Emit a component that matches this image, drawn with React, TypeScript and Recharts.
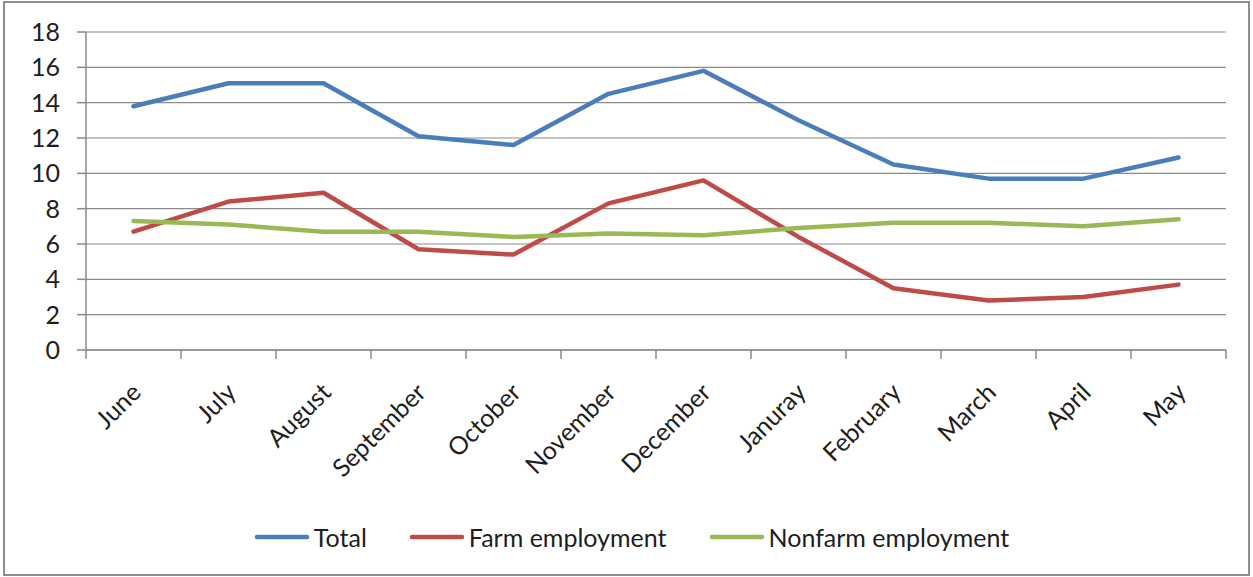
import React from "react";
import { CartesianGrid, Legend, Line, LineChart, XAxis, YAxis } from "recharts";

const months = [
  "June",
  "July",
  "August",
  "September",
  "October",
  "November",
  "December",
  "Januray",
  "February",
  "March",
  "April",
  "May",
];
const total = [13.8, 15.1, 15.1, 12.1, 11.6, 14.5, 15.8, 13.0, 10.5, 9.7, 9.7, 10.9];
const farm = [6.7, 8.4, 8.9, 5.7, 5.4, 8.3, 9.6, 6.4, 3.5, 2.8, 3.0, 3.7];
const nonfarm = [7.3, 7.1, 6.7, 6.7, 6.4, 6.6, 6.5, 6.9, 7.2, 7.2, 7.0, 7.4];
const seriesNames = ["Total", "Farm employment", "Nonfarm employment"];
const yTicks = [0, 2, 4, 6, 8, 10, 12, 14, 16, 18];

const data = months.map((month, i) => ({
  month,
  total: total[i],
  farm: farm[i],
  nonfarm: nonfarm[i],
}));

const W = 1253;
const H = 577;
const margin = { top: 32, right: 27, left: 0, bottom: 107 };
const Y_AXIS_W = 86;
const PLOT_W = W - margin.left - margin.right - Y_AXIS_W;
const HALF_BAND = PLOT_W / months.length / 2;

const FONT = "Lato, 'Open Sans', sans-serif";
const FONT_SIZE = 25;
const AXIS_GREY = "#8a8a8a";
const TEXT = "#1e1e1e";

// category labels slanted at 45 degrees, plus tick marks between categories
function MonthTick(props: any) {
  const { x, y, payload, index } = props;
  const tx = x + 9;
  const ty = y + 44;
  return (
    <g>
      <line x1={x - HALF_BAND} x2={x - HALF_BAND} y1={y} y2={y + 9} stroke={AXIS_GREY} strokeWidth={1.5} />
      {index === months.length - 1 && (
        <line x1={x + HALF_BAND} x2={x + HALF_BAND} y1={y} y2={y + 9} stroke={AXIS_GREY} strokeWidth={1.5} />
      )}
      <text
        x={tx}
        y={ty}
        transform={`rotate(-45 ${tx} ${ty})`}
        textAnchor="end"
        fontFamily={FONT}
        fontSize={FONT_SIZE}
        fill={TEXT}
      >
        {payload.value}
      </text>
    </g>
  );
}

function renderLegend(props: any) {
  const items = [...props.payload].sort(
    (a: any, b: any) => seriesNames.indexOf(a.value) - seriesNames.indexOf(b.value)
  );
  return (
    <div
      style={{
        display: "flex",
        justifyContent: "center",
        alignItems: "center",
        paddingLeft: 10,
      }}
    >
      {items.map((entry: any, i: number) => (
        <div
          key={entry.value}
          style={{
            display: "flex",
            alignItems: "center",
            marginRight: i < items.length - 1 ? 42 : 0,
          }}
        >
          <svg width={56} height={8}>
            <line x1={3} y1={4} x2={53} y2={4} stroke={entry.color} strokeWidth={4.5} strokeLinecap="round" />
          </svg>
          <span style={{ marginLeft: 4, fontFamily: FONT, fontSize: FONT_SIZE, color: TEXT, lineHeight: "30px" }}>
            {entry.value}
          </span>
        </div>
      ))}
    </div>
  );
}

export default function App() {
  return (
    <div style={{ position: "absolute", left: 0, top: 0, width: W, height: H, background: "#fff" }}>
      <div
        style={{
          position: "absolute",
          left: 3,
          top: 1,
          width: 1247,
          height: 575,
          boxSizing: "border-box",
          border: "2px solid #8e8e8e",
        }}
      />
      <LineChart width={W} height={H} data={data} margin={margin}>
        <CartesianGrid vertical={false} stroke={AXIS_GREY} strokeWidth={1.2} />
        <XAxis
          dataKey="month"
          interval={0}
          height={120}
          padding={{ left: HALF_BAND, right: HALF_BAND }}
          tickLine={false}
          tickSize={0}
          tickMargin={0}
          axisLine={{ stroke: AXIS_GREY, strokeWidth: 1.5 }}
          tick={<MonthTick />}
        />
        <YAxis
          width={Y_AXIS_W}
          domain={[0, 18]}
          ticks={yTicks}
          interval={0}
          tickSize={9}
          tickMargin={17}
          tickLine={{ stroke: AXIS_GREY, strokeWidth: 1.5 }}
          axisLine={{ stroke: AXIS_GREY, strokeWidth: 1.5 }}
          tick={{ fontFamily: FONT, fontSize: FONT_SIZE, fill: TEXT }}
        />
        <Legend
          verticalAlign="middle"
          align="center"
          layout="horizontal"
          wrapperStyle={{ top: 522, left: 0, width: W }}
          content={renderLegend}
        />
        <Line
          type="linear"
          dataKey="total"
          name="Total"
          stroke="#4a7ebb"
          strokeWidth={4.5}
          strokeLinejoin="round"
          strokeLinecap="round"
          dot={false}
          isAnimationActive={false}
        />
        <Line
          type="linear"
          dataKey="farm"
          name="Farm employment"
          stroke="#be4b48"
          strokeWidth={4.5}
          strokeLinejoin="round"
          strokeLinecap="round"
          dot={false}
          isAnimationActive={false}
        />
        <Line
          type="linear"
          dataKey="nonfarm"
          name="Nonfarm employment"
          stroke="#98b954"
          strokeWidth={4.5}
          strokeLinejoin="round"
          strokeLinecap="round"
          dot={false}
          isAnimationActive={false}
        />
      </LineChart>
    </div>
  );
}
